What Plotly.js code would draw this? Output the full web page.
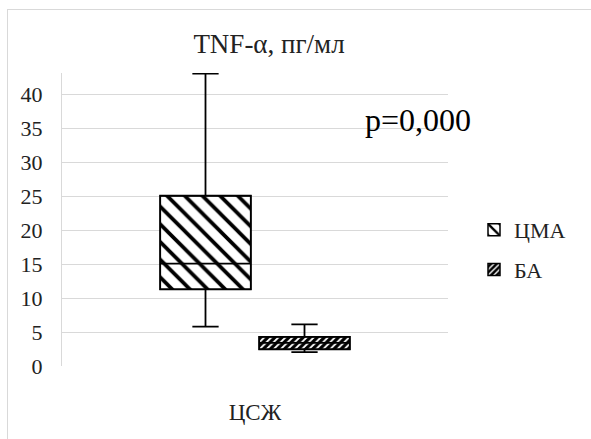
<!DOCTYPE html>
<html>
<head>
<meta charset="utf-8">
<script src="https://cdn.plot.ly/plotly-3.0.1.min.js"></script>
<style>
html,body{margin:0;padding:0;background:#fff;font-family:serif;}
#wrap{position:relative;width:591px;height:439px;overflow:hidden;}
#chart{position:absolute;left:0;top:0;width:591px;height:439px;}
#chart svg text{font-family:serif !important;}
#frame{position:absolute;left:7px;top:9px;width:600px;height:450px;border:1px solid #d9d9d9;pointer-events:none;}
</style>
</head>
<body>
<div id="wrap"><div id="chart"></div><div id="frame"></div></div>
<script>
// Data
const category = ['ЦСЖ'];
const seriesNames = ['ЦМА', 'БА'];
const lowerFence = [5.8, 2.06];
const q1 = [11.3, 2.46];
const median = [15.1, 3.4];
const q3 = [25.1, 4.3];
const upperFence = [43.1, 6.14];
const yTicks = [0, 5, 10, 15, 20, 25, 30, 35, 40];
const pValueText = 'p=0,000';
const chartTitle = 'TNF-α, пг/мл';

const serif = 'serif';
const patterns = [
  {shape: '\\', fgcolor: '#000', bgcolor: '#fff', size: 12.5, solidity: 0.3},
  {shape: '/', fgcolor: '#fff', bgcolor: '#000', size: 5, solidity: 0.35}
];

const traces = [];
seriesNames.forEach((name, i) => {
  traces.push({
    type: 'bar',
    name: name,
    x: category,
    y: [q3[i] - q1[i]],
    base: [q1[i]],
    marker: {color: '#fff', line: {color: '#000', width: 1.5}, pattern: patterns[i]},
    legendgroup: name,
    hoverinfo: 'skip'
  });
});
seriesNames.forEach((name, i) => {
  traces.push({
    type: 'box',
    name: name,
    x: category,
    q1: [q1[i]],
    median: [median[i]],
    q3: [q3[i]],
    lowerfence: [lowerFence[i]],
    upperfence: [upperFence[i]],
    fillcolor: 'rgba(0,0,0,0)',
    line: {color: '#000', width: 1.8},
    whiskerwidth: 0.29,
    showlegend: false,
    legendgroup: name,
    hoverinfo: 'skip'
  });
});

const layout = {
  width: 591,
  height: 439,
  margin: {l: 62, r: 143, t: 72.7, b: 73, pad: 0},
  paper_bgcolor: '#fff',
  plot_bgcolor: '#fff',
  showlegend: true,
  barmode: 'group',
  bargap: 0.487,
  bargroupgap: 0.085,
  boxmode: 'group',
  boxgap: 0.487,
  boxgroupgap: 0.085,
  font: {family: serif, color: '#222'},
  title: {
    text: chartTitle,
    font: {family: serif, size: 27, color: '#222'},
    x: 269 / 591, xanchor: 'center', xref: 'container',
    y: 1 - 44 / 439, yanchor: 'middle', yref: 'container'
  },
  xaxis: {
    type: 'category',
    showgrid: false,
    showline: false,
    zeroline: false,
    ticks: '',
    tickfont: {family: serif, size: 23, color: '#222'},
    ticklabelstandoff: 30
  },
  yaxis: {
    range: [0, 43.2],
    tickvals: yTicks,
    ticktext: yTicks.map(String),
    showgrid: true,
    gridcolor: '#d9d9d9',
    gridwidth: 1.3,
    showline: true,
    linecolor: '#d9d9d9',
    linewidth: 1.3,
    zeroline: false,
    ticks: '',
    tickfont: {family: serif, size: 22, color: '#222'},
    ticklabelstandoff: 14
  },
  legend: {
    xref: 'container', yref: 'container',
    x: 474 / 591, xanchor: 'left',
    y: 1 - 250 / 439, yanchor: 'middle',
    font: {family: serif, size: 22, color: '#222'},
    traceorder: 'grouped',
    tracegroupgap: 8,
    bgcolor: 'rgba(0,0,0,0)'
  },
  annotations: [{
    text: pValueText,
    xref: 'paper', yref: 'y',
    x: (418 - 62) / 386, y: 36.3,
    xanchor: 'center', yanchor: 'middle',
    showarrow: false,
    font: {family: serif, size: 32, color: '#000'}
  }]
};

Plotly.newPlot('chart', traces, layout, {displayModeBar: false});
</script>
</body>
</html>
